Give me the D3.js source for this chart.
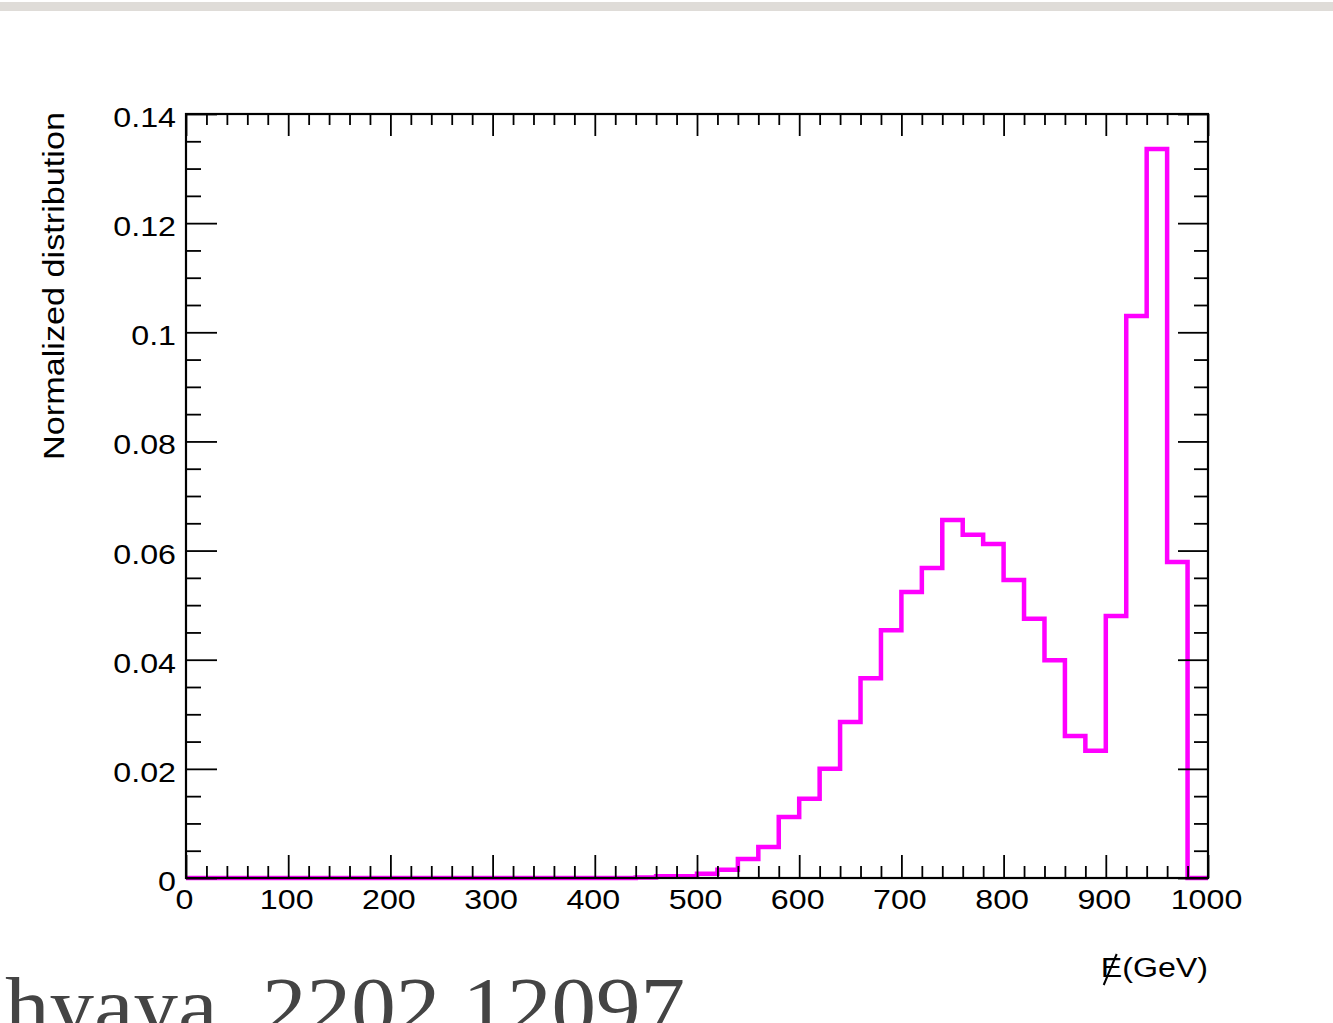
<!DOCTYPE html>
<html>
<head>
<meta charset="utf-8">
<script src="https://cdn.jsdelivr.net/npm/d3@7"></script>
<style>
  html, body { margin: 0; padding: 0; background: #fff; }
  svg { display: block; }
  .lbl { font-family: "Liberation Sans", Arial, Helvetica, sans-serif; font-size: 28px; fill: #000; }
</style>
</head>
<body>
<div id="chart"></div>
<script>
// histogram bins (GeV), lower edges, 20 GeV wide
const binStarts = [0, 20, 40, 60, 80, 100, 120, 140, 160, 180,
  200, 220, 240, 260, 280, 300, 320, 340, 360, 380,
  400, 420, 440, 460, 480, 500, 520, 540, 560, 580,
  600, 620, 640, 660, 680, 700, 720, 740, 760, 780,
  800, 820, 840, 860, 880, 900, 920, 940, 960, 980];
const binWidth = 20;
const binValues = [0, 0, 0, 0, 0, 0, 0, 0, 0, 0,
  0, 0, 0, 0, 0, 0, 0, 0, 0, 0,
  0, 0, 0.0001, 0.0003, 0.0003, 0.0008, 0.0015, 0.0035, 0.0057, 0.0112,
  0.0145, 0.0200, 0.0286, 0.0366, 0.0454, 0.0524, 0.0568, 0.0656, 0.0629, 0.0612,
  0.0546, 0.0475, 0.0399, 0.0260, 0.0233, 0.0480, 0.1030, 0.1336, 0.0579, 0];

const xTickValues = [0, 100, 200, 300, 400, 500, 600, 700, 800, 900, 1000];
const yTickValues = [0, 0.02, 0.04, 0.06, 0.08, 0.1, 0.12, 0.14];
const yTickLabels = ["0", "0.02", "0.04", "0.06", "0.08", "0.1", "0.12", "0.14"];

const width = 1333, height = 1023;
const margin = { top: 114, right: 125, bottom: 145, left: 186 };
const stretch = 1.15;

const svg = d3.select("#chart").append("svg")
  .attr("width", width).attr("height", height);

// page strip at the top
svg.append("rect").attr("x", 0).attr("y", 2).attr("width", width).attr("height", 9)
  .attr("fill", "#dfdcd8");

const x = d3.scaleLinear().domain([0, 1000]).range([margin.left, width - margin.right]);
const y = d3.scaleLinear().domain([0, 0.14]).range([height - margin.bottom, margin.top]);

// histogram outline
const pts = [[0, 0]];
binStarts.forEach((b, i) => {
  pts.push([b, binValues[i]]);
  pts.push([b + binWidth, binValues[i]]);
});
pts.push([1000, 0]);
svg.append("path")
  .attr("d", d3.line().x(d => x(d[0])).y(d => y(d[1]))(pts))
  .attr("fill", "none")
  .attr("stroke", "#ff00ff")
  .attr("stroke-width", 4.5)
  .attr("stroke-linejoin", "miter");

// ticks on all four sides
const xMinor = d3.range(0, 1001, 20).filter(v => v % 100 !== 0);
const yMinor = d3.range(0, 29).map(i => i * 0.005).filter((v, i) => i % 4 !== 0);

function tickAxis(axis, vals, size) {
  return axis.tickValues(vals).tickSize(size).tickSizeOuter(0).tickFormat("");
}
function drawTicks(g) {
  g.select(".domain").remove();
  g.selectAll("line").attr("stroke", "#000").attr("stroke-width", 1.8);
}
const yb = y(0), yt = y(0.14), xl = x(0), xr = x(1000);
[[xTickValues, 23], [xMinor, 12]].forEach(([v, s]) => {
  svg.append("g").attr("transform", `translate(0,${yb})`).call(tickAxis(d3.axisTop(x), v, s)).call(drawTicks);
  svg.append("g").attr("transform", `translate(0,${yt})`).call(tickAxis(d3.axisBottom(x), v, s - 1)).call(drawTicks);
});
[[yTickValues, 31], [yMinor, 15]].forEach(([v, s]) => {
  svg.append("g").attr("transform", `translate(${xl},0)`).call(tickAxis(d3.axisRight(y), v, s)).call(drawTicks);
  svg.append("g").attr("transform", `translate(${xr},0)`).call(tickAxis(d3.axisLeft(y), v, s - 1)).call(drawTicks);
});

// frame
svg.append("rect")
  .attr("x", xl).attr("y", yt).attr("width", xr - xl).attr("height", yb - yt)
  .attr("fill", "none").attr("stroke", "#000").attr("stroke-width", 2.2);

// tick labels
svg.append("g").selectAll("text").data(xTickValues).join("text")
  .attr("class", "lbl")
  .attr("text-anchor", "middle")
  .attr("transform", d => `translate(${x(d) - 1.5},${yb + 31}) scale(${stretch},1)`)
  .text(d => d);
svg.append("g").selectAll("text").data(yTickValues).join("text")
  .attr("class", "lbl")
  .attr("text-anchor", "end")
  .attr("transform", d => `translate(${xl - 10},${y(d) + 13}) scale(${stretch},1)`)
  .text((d, i) => yTickLabels[i]);

// axis titles
svg.append("text")
  .attr("class", "lbl")
  .style("font-size", "29px")
  .attr("text-anchor", "end")
  .attr("transform", `translate(64,112) rotate(-90) scale(1.18,1)`)
  .text("Normalized distribution");

const xTitle = svg.append("text")
  .attr("class", "lbl")
  .attr("text-anchor", "end")
  .attr("transform", `translate(${xr},977) scale(${stretch},1)`)
  .text("E(GeV)");
const bb = xTitle.node().getBBox();
const ex = xr + bb.x * stretch;
svg.append("line")
  .attr("x1", ex + 3).attr("y1", 985)
  .attr("x2", ex + 16).attr("y2", 954)
  .attr("stroke", "#000").attr("stroke-width", 2);

// cut-off caption at the page bottom
svg.append("text")
  .attr("x", 5).attr("y", 1034)
  .attr("font-family", "'Liberation Serif', 'Times New Roman', serif")
  .attr("font-size", 82)
  .attr("fill", "#444")
  .attr("textLength", 680)
  .attr("lengthAdjust", "spacingAndGlyphs")
  .text("hyaya, 2202.12097");
</script>
</body>
</html>
